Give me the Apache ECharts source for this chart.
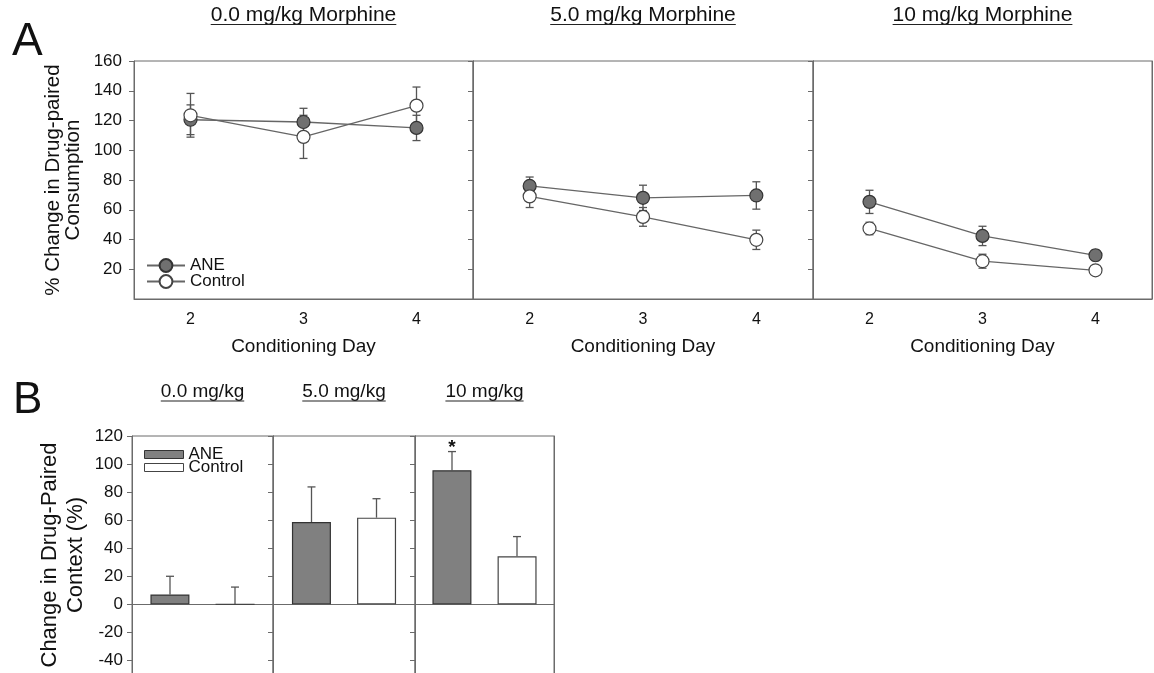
<!DOCTYPE html>
<html lang="en">
<head>
<meta charset="UTF-8">
<title>Morphine conditioning</title>
<script src="https://cdn.jsdelivr.net/npm/echarts@6/dist/echarts.min.js"></script>
<style>
  html, body { margin: 0; padding: 0; background: #fff; }
  #chart { width: 1154px; height: 673px; }
</style>
</head>
<body>
<div id="chart"></div>
<script>
// ---- data: panel A (consumption by conditioning day) ----
var days = ['2', '3', '4'];
var doseTitlesA = ['0.0 mg/kg Morphine', '5.0 mg/kg Morphine', '10 mg/kg Morphine'];
var aneMeanA = [[120.5, 119, 115], [76, 68, 69.6], [65.3, 42.4, 29.4]];
var aneSemA  = [[10, 9.2, 8.5], [6, 8.5, 9.2], [7.8, 6.5, 3.6]];
var ctlMeanA = [[123.5, 109, 130], [69, 55.2, 39.8], [47.4, 25.4, 19.3]];
var ctlSemA  = [[14.7, 14.5, 12.5], [7.5, 6.3, 6.5], [4.2, 4.7, 2.5]];

// ---- data: panel B (change in drug-paired context) ----
var doseTitlesB = ['0.0 mg/kg', '5.0 mg/kg', '10 mg/kg'];
var aneB    = [7, 58.7, 95.6];
var aneSemB = [13, 25, 13.3];
var ctlB    = [0, 61.8, 34.3];
var ctlSemB = [12.3, 13.5, 14];
var sigB    = ['', '', '*'];

// ---- layout / style ----
var FONT = '"Liberation Sans", Arial, sans-serif';
var axisGray = '#6b6b6b';
var ink = '#111';
var boxA = { left: [134, 473, 813], width: [339, 340, 339], top: 61, height: 238 };
var boxB = { left: [132, 273, 415], width: [141, 142, 139], top: 436, height: 252.5 };

var measureCtx = document.createElement('canvas').getContext('2d');
function textWidth(t, font) { measureCtx.font = font; return measureCtx.measureText(t).width; }

// error bars drawn through the axes
function errorBars(offset, upOnly, marks) {
  return function (params, api) {
    var x = api.value(0), m = api.value(1), s = api.value(2);
    var hi = api.coord([x, m + s]);
    var lo = api.coord([x, upOnly ? m : m - s]);
    var cx = hi[0] + offset, cap = 4;
    var st = { stroke: '#555', lineWidth: 1.3 };
    var kids = [
      { type: 'line', shape: { x1: cx, y1: hi[1], x2: cx, y2: lo[1] }, style: st },
      { type: 'line', shape: { x1: cx - cap, y1: hi[1], x2: cx + cap, y2: hi[1] }, style: st }
    ];
    if (!upOnly) kids.push({ type: 'line', shape: { x1: cx - cap, y1: lo[1], x2: cx + cap, y2: lo[1] }, style: st });
    var mark = marks && marks[params.dataIndex];
    if (mark) {
      kids.push({ type: 'text', x: cx, y: hi[1] - 4, style: {
        text: mark, textAlign: 'center', textVerticalAlign: 'middle',
        font: 'bold 19px ' + FONT, fill: ink } });
    }
    return { type: 'group', children: kids };
  };
}

function errData(means, sems) {
  return means.map(function (v, i) { return [i, v, sems[i]]; });
}

var grids = [], xAxes = [], yAxes = [], series = [], graphic = [];

// panel A grids
for (var k = 0; k < 3; k++) {
  grids.push({ left: boxA.left[k], top: boxA.top, width: boxA.width[k], height: boxA.height,
    show: true, borderColor: axisGray, borderWidth: 1, outerBoundsMode: 'none' });
  xAxes.push({ type: 'category', gridIndex: k, data: days,
    axisLine: { lineStyle: { color: axisGray } },
    axisTick: { alignWithLabel: true, length: 4, lineStyle: { color: axisGray } },
    axisLabel: { fontSize: 16, color: ink, margin: 13, fontFamily: FONT } });
  yAxes.push({ type: 'value', gridIndex: k, min: 0, max: 160, interval: 20,
    splitLine: { show: false },
    axisLine: { show: true, lineStyle: { color: axisGray } },
    axisTick: { show: k === 0, length: 5, lineStyle: { color: axisGray } },
    axisLabel: { show: k === 0, showMinLabel: false, fontSize: 17, color: ink, margin: 12, fontFamily: FONT } });
  yAxes.push({ type: 'value', gridIndex: k, position: 'right', min: 0, max: 160, interval: 20,
    splitLine: { show: false },
    axisLine: { show: true, lineStyle: { color: axisGray } },
    axisTick: { show: k < 2, inside: true, length: 5, lineStyle: { color: axisGray } },
    axisLabel: { show: false } });
}

// panel B grids
for (var j = 0; j < 3; j++) {
  var g = 3 + j;
  grids.push({ left: boxB.left[j], top: boxB.top, width: boxB.width[j], height: boxB.height,
    show: true, borderColor: axisGray, borderWidth: 1, outerBoundsMode: 'none' });
  xAxes.push({ type: 'category', gridIndex: g, data: [doseTitlesB[j]],
    axisLine: { onZero: true, lineStyle: { color: axisGray } },
    axisTick: { show: false }, axisLabel: { show: false } });
  yAxes.push({ type: 'value', gridIndex: g, min: -60, max: 120, interval: 20,
    splitLine: { show: false },
    axisLine: { show: true, lineStyle: { color: axisGray } },
    axisTick: { show: j === 0, length: 5, lineStyle: { color: axisGray } },
    axisLabel: { show: j === 0, fontSize: 17, color: ink, margin: 9, fontFamily: FONT } });
  yAxes.push({ type: 'value', gridIndex: g, position: 'right', min: -60, max: 120, interval: 20,
    splitLine: { show: false },
    axisLine: { show: true, lineStyle: { color: axisGray } },
    axisTick: { show: j < 2, inside: true, length: 5, lineStyle: { color: axisGray } },
    axisLabel: { show: false } });
}

// panel A series
for (var k = 0; k < 3; k++) {
  series.push({ type: 'line', name: 'ANE', xAxisIndex: k, yAxisIndex: 2 * k, data: aneMeanA[k],
    symbol: 'circle', symbolSize: 13, z: 4,
    lineStyle: { color: '#666', width: 1.3 },
    itemStyle: { color: '#707070', borderColor: '#333', borderWidth: 1.2 } });
  series.push({ type: 'line', name: 'Control', xAxisIndex: k, yAxisIndex: 2 * k, data: ctlMeanA[k],
    symbol: 'circle', symbolSize: 13, z: 4,
    lineStyle: { color: '#666', width: 1.3 },
    itemStyle: { color: '#fff', borderColor: '#444', borderWidth: 1.2 } });
  series.push({ type: 'custom', xAxisIndex: k, yAxisIndex: 2 * k, z: 2,
    renderItem: errorBars(0, false), data: errData(aneMeanA[k], aneSemA[k]) });
  series.push({ type: 'custom', xAxisIndex: k, yAxisIndex: 2 * k, z: 2,
    renderItem: errorBars(0, false), data: errData(ctlMeanA[k], ctlSemA[k]) });
}

// panel B series
for (var j = 0; j < 3; j++) {
  var g = 3 + j;
  series.push({ type: 'bar', name: 'ANE', xAxisIndex: g, yAxisIndex: 2 * g, data: [aneB[j]],
    barWidth: 39, barGap: '67%', z: 3,
    itemStyle: { color: '#808080', borderColor: '#333', borderWidth: 1.2 } });
  series.push({ type: 'bar', name: 'Control', xAxisIndex: g, yAxisIndex: 2 * g, data: [ctlB[j]],
    barWidth: 39, barGap: '67%', z: 3,
    itemStyle: { color: '#fff', borderColor: '#444', borderWidth: 1.2 } });
  series.push({ type: 'custom', xAxisIndex: g, yAxisIndex: 2 * g, z: 2,
    renderItem: errorBars(-32.5, true, [sigB[j]]), data: [[0, aneB[j], aneSemB[j]]] });
  series.push({ type: 'custom', xAxisIndex: g, yAxisIndex: 2 * g, z: 2,
    renderItem: errorBars(32.5, true), data: [[0, ctlB[j], ctlSemB[j]]] });
}

// titles, underlines, axis names
function underlinedTitle(text, cx, cy, size, lineY) {
  var font = size + 'px ' + FONT;
  var w = textWidth(text, font);
  graphic.push({ type: 'text', x: cx, y: cy, style: { text: text, font: font, fill: ink,
    textAlign: 'center', textVerticalAlign: 'middle' } });
  graphic.push({ type: 'line', shape: { x1: cx - w / 2, y1: lineY, x2: cx + w / 2, y2: lineY },
    style: { stroke: '#222', lineWidth: 1.2 } });
}
for (var k = 0; k < 3; k++) {
  var cxA = boxA.left[k] + boxA.width[k] / 2;
  underlinedTitle(doseTitlesA[k], cxA, 15, 21, 24.5);
  graphic.push({ type: 'text', x: cxA, y: 347, style: { text: 'Conditioning Day',
    font: '19px ' + FONT, fill: ink, textAlign: 'center', textVerticalAlign: 'middle' } });
  var cxB = boxB.left[k] + boxB.width[k] / 2;
  underlinedTitle(doseTitlesB[k], cxB, 392, 19, 401);
}
graphic.push({ type: 'text', x: 12, y: 19, style: { text: 'A', font: '46px ' + FONT, fill: ink } });
graphic.push({ type: 'text', x: 13, y: 379, style: { text: 'B', font: '44px ' + FONT, fill: ink } });
graphic.push({ type: 'text', x: 63, y: 180, rotation: Math.PI / 2, style: {
  text: '% Change in Drug-paired\nConsumption', font: '20.5px ' + FONT, lineHeight: 20,
  fill: ink, textAlign: 'center', textVerticalAlign: 'middle' } });
graphic.push({ type: 'text', x: 63, y: 555, rotation: Math.PI / 2, style: {
  text: 'Change in Drug-Paired\nContext (%)', font: '22px ' + FONT, lineHeight: 26,
  fill: ink, textAlign: 'center', textVerticalAlign: 'middle' } });

var chart = echarts.init(document.getElementById('chart'));
chart.setOption({
  backgroundColor: '#fff',
  animation: false,
  textStyle: { fontFamily: FONT },
  grid: grids,
  xAxis: xAxes,
  yAxis: yAxes,
  legend: [{
    data: ['ANE', 'Control'], orient: 'vertical', left: 141, top: 252,
    itemWidth: 38, itemHeight: 16, itemGap: -1, selectedMode: false,
    textStyle: { fontSize: 17, color: ink }
  }, {
    data: [
      { name: 'ANE', icon: 'rect', itemStyle: { color: '#808080', borderColor: '#333', borderWidth: 1 } },
      { name: 'Control', icon: 'rect', itemStyle: { color: '#fff', borderColor: '#444', borderWidth: 1 } }
    ],
    orient: 'vertical', left: 139, top: 441,
    itemWidth: 39, itemHeight: 8, itemGap: -4, selectedMode: false,
    textStyle: { fontSize: 17, color: ink }
  }],
  graphic: graphic,
  series: series
});
</script>
</body>
</html>
